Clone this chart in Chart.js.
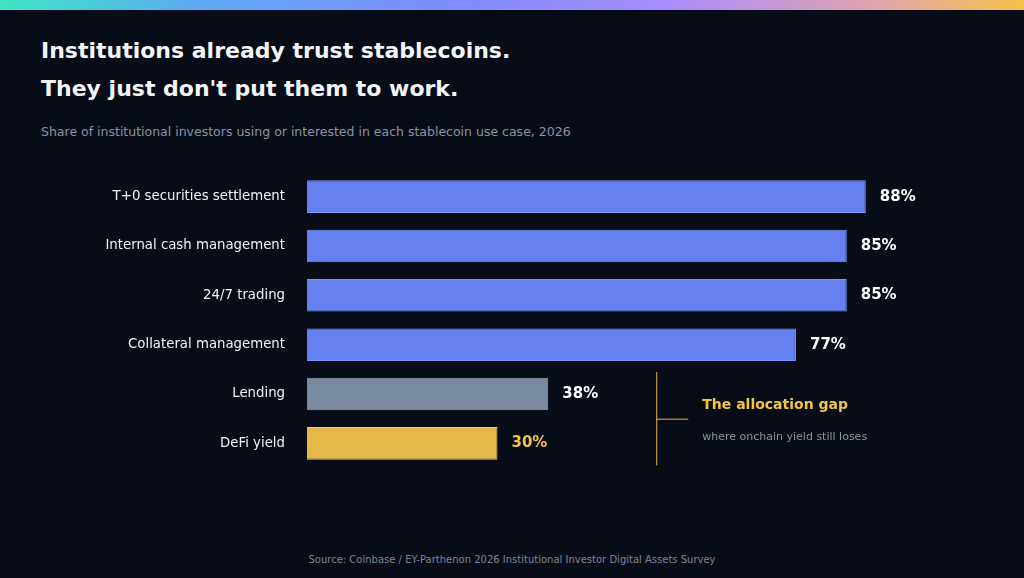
<!DOCTYPE html>
<html><head><meta charset="utf-8">
<script src="https://cdn.jsdelivr.net/npm/chart.js@4"></script>
<style>
html,body{margin:0;padding:0;background:#080c16;width:1024px;height:578px;overflow:hidden;font-family:"DejaVu Sans",sans-serif;}
#bar{position:absolute;left:0;top:0;width:1024px;height:10px;background:linear-gradient(90deg,#3ee6c4,#5fa8f5 20%,#7f8cff 45%,#a98cff 65%,#e0a3b0 85%,#f6c24a);}
h1{position:absolute;left:41px;margin:0;color:#f3f4f8;font-size:22px;font-weight:bold;}
#sub{position:absolute;left:41px;top:124px;color:#8a93a6;font-size:12.5px;}
#src{position:absolute;left:0;width:1024px;top:554px;text-align:center;color:#7d8598;font-size:10px;}
#wrap{position:absolute;left:0;top:150px;width:1024px;height:340px;}
</style></head><body>
<div id="bar"></div>
<h1 style="top:38px">Institutions already trust stablecoins.</h1>
<h1 style="top:76px">They just don't put them to work.</h1>
<div id="sub">Share of institutional investors using or interested in each stablecoin use case, 2026</div>
<div id="wrap"><canvas id="c"></canvas></div>
<div id="src">Source: Coinbase / EY-Parthenon 2026 Institutional Investor Digital Assets Survey</div>
<script>
const categories=["T+0 securities settlement","Internal cash management","24/7 trading","Collateral management","Lending","DeFi yield"];
const values=[88,85,85,77,38,30];
const colors=["#6680f0","#6680f0","#6680f0","#6680f0","#7a8aa3","#e5b84a"];
const borders=["#7d95ff","#7d95ff","#7d95ff","#7d95ff","#95a3b8","#f2c95c"];
const labelColors=["#ffffff","#ffffff","#ffffff","#ffffff","#ffffff","#f2c447"];
const annoTitle="The allocation gap", annoSub="where onchain yield still loses";
const extra={id:'extra',afterDatasetsDraw(ch){
 const ctx=ch.ctx,x=ch.scales.x,y=ch.scales.y,meta=ch.getDatasetMeta(0);
 ctx.save();ctx.font="bold 15px 'DejaVu Sans'";ctx.textBaseline="middle";
 meta.data.forEach((b,i)=>{ctx.fillStyle=labelColors[i];ctx.fillText(values[i]+"%",b.x+14,b.y);});
 const lx=x.getPixelForValue(55),y1=y.getPixelForValue(4)-22,y2=y.getPixelForValue(5)+22,ym=(y1+y2)/2;
 ctx.strokeStyle="#e5b84a";ctx.lineWidth=1;ctx.beginPath();ctx.moveTo(lx+0.5,y1);ctx.lineTo(lx+0.5,y2);ctx.moveTo(lx,ym+0.5);ctx.lineTo(lx+32,ym+0.5);ctx.stroke();
 ctx.fillStyle="#f2c447";ctx.font="bold 14px 'DejaVu Sans'";ctx.fillText(annoTitle,lx+46,ym-13);
 ctx.fillStyle="#8a93a6";ctx.font="11px 'DejaVu Sans'";ctx.fillText(annoSub,lx+46,ym+18);
 ctx.restore();}};
new Chart(document.getElementById('c'),{type:'bar',
 data:{labels:categories,datasets:[{data:values,backgroundColor:colors,borderColor:borders,borderWidth:1,categoryPercentage:0.66,barPercentage:1}]},
 options:{indexAxis:'y',responsive:true,maintainAspectRatio:false,animation:false,layout:{padding:{right:82,top:0,bottom:0}},
  plugins:{legend:{display:false},tooltip:{enabled:false}},
  scales:{x:{display:false,min:0,max:100},
   y:{grid:{display:false},border:{display:false},afterFit(s){s.width=307;},
      ticks:{color:"#f0f2f6",padding:14,font:{family:"DejaVu Sans",size:13.3}}}}},
 plugins:[extra]});
</script></body></html>
